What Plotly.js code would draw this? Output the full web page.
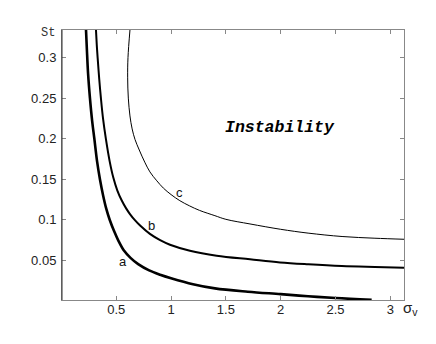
<!DOCTYPE html>
<html>
<head>
<meta charset="utf-8">
<script src="https://cdn.plot.ly/plotly-3.0.1.min.js"></script>
<style>html,body{margin:0;padding:0;background:#fff;}#chart{width:436px;height:344px;}</style>
</head>
<body>
<div id="chart"></div>
<script>
// Curve a (thickest)
var sigmaA = [0.224, 0.232, 0.243, 0.26, 0.28, 0.30, 0.325, 0.351, 0.38, 0.41, 0.44, 0.48, 0.52, 0.57, 0.63, 0.70, 0.80, 0.90, 1.0, 1.2, 1.4, 1.7, 2.0, 2.25, 2.5, 2.83];
var stA    = [0.334, 0.31, 0.28, 0.25, 0.222, 0.200, 0.172, 0.150, 0.130, 0.113, 0.100, 0.086, 0.074, 0.062, 0.053, 0.0452, 0.0375, 0.0322, 0.0279, 0.0205, 0.0153, 0.0112, 0.0082, 0.0056, 0.0034, 0.0012];
// Curve b
var sigmaB = [0.315, 0.322, 0.33, 0.345, 0.36, 0.38, 0.405, 0.44, 0.473, 0.51, 0.549, 0.59, 0.625, 0.67, 0.72, 0.807, 0.90, 0.99, 1.172, 1.416, 1.72, 1.994, 2.252, 2.557, 2.86, 3.125];
var stB    = [0.334, 0.316, 0.30, 0.273, 0.25, 0.224, 0.200, 0.172, 0.152, 0.136, 0.124, 0.114, 0.107, 0.0995, 0.0925, 0.0825, 0.0748, 0.0692, 0.0618, 0.0557, 0.0512, 0.0473, 0.0450, 0.0429, 0.0417, 0.0408];
// Curve c (thin)
var sigmaC = [0.625, 0.607, 0.604, 0.61, 0.625, 0.645, 0.671, 0.71, 0.76, 0.807, 0.87, 0.93, 1.0, 1.08, 1.17, 1.26, 1.40, 1.50, 1.72, 2.0, 2.25, 2.56, 2.86, 3.125];
var stC    = [0.334, 0.30, 0.275, 0.25, 0.228, 0.212, 0.199, 0.186, 0.171, 0.159, 0.148, 0.139, 0.131, 0.1235, 0.117, 0.1115, 0.105, 0.1005, 0.0948, 0.0882, 0.0835, 0.0793, 0.0772, 0.0759];

var xTicks = [0.5, 1, 1.5, 2, 2.5, 3];
var xTickText = ['0.5', '1', '1.5', '2', '2.5', '3'];
var yTicks = [0.05, 0.1, 0.15, 0.2, 0.25, 0.3];
var yTickText = ['0.05', '0.1', '0.15', '0.2', '0.25', '0.3'];

var curveLabels = ['a', 'b', 'c'];

var traces = [
  {x: sigmaA, y: stA, mode: 'lines', line: {color: '#000', width: 2.6, shape: 'spline', smoothing: 1}, hoverinfo: 'skip'},
  {x: sigmaB, y: stB, mode: 'lines', line: {color: '#000', width: 2.0, shape: 'spline', smoothing: 1}, hoverinfo: 'skip'},
  {x: sigmaC, y: stC, mode: 'lines', line: {color: '#000', width: 1.0, shape: 'spline', smoothing: 1}, hoverinfo: 'skip'}
];

var tickFont = {family: '"Liberation Sans", Arial, Helvetica, sans-serif', size: 13, color: '#222'};

var layout = {
  width: 436, height: 344,
  margin: {l: 62, r: 32, t: 30, b: 44},
  paper_bgcolor: '#fff', plot_bgcolor: '#fff',
  showlegend: false,
  xaxis: {
    range: [0.005, 3.125], tickvals: xTicks, ticktext: xTickText,
    ticks: 'inside', ticklen: 4, tickcolor: '#888', tickwidth: 1,
    showline: true, linecolor: '#888', linewidth: 1, mirror: 'ticks',
    showgrid: false, zeroline: false, tickfont: tickFont, ticklabelstandoff: -3
  },
  yaxis: {
    range: [0.001, 0.334], tickvals: yTicks, ticktext: yTickText,
    ticks: 'inside', ticklen: 4, tickcolor: '#888', tickwidth: 1,
    showline: true, linecolor: '#888', linewidth: 1, mirror: 'ticks',
    showgrid: false, zeroline: false, tickfont: tickFont, ticklabelstandoff: 2
  },
  shapes: [
    {type: 'line', xref: 'paper', yref: 'paper', x0: 0, x1: 0, y0: 0, y1: 1, line: {color: '#333', width: 1}}
  ],
  annotations: [
    {x: 0.56, y: 0.0479, xref: 'x', yref: 'y', text: curveLabels[0], showarrow: false, font: {family: '"Liberation Sans", Arial, sans-serif', size: 13, color: '#111'}},
    {x: 0.826, y: 0.0932, xref: 'x', yref: 'y', text: curveLabels[1], showarrow: false, font: {family: '"Liberation Sans", Arial, sans-serif', size: 13, color: '#111'}},
    {x: 1.081, y: 0.133, xref: 'x', yref: 'y', text: curveLabels[2], showarrow: false, font: {family: '"Liberation Sans", Arial, sans-serif', size: 13, color: '#111'}},
    {x: 1.991, y: 0.2132, xref: 'x', yref: 'y', text: '<b><i>Instability</i></b>', showarrow: false, font: {family: '"Liberation Mono", "Courier New", monospace', size: 16.5, color: '#000'}},
    {x: -0.04, y: 1.0, xref: 'paper', yref: 'paper', xanchor: 'center', yanchor: 'middle', yshift: -3, text: 'St', showarrow: false, font: {family: '"Liberation Mono", "Courier New", monospace', size: 12, color: '#333'}},
    {x: 1.0, y: 0, xref: 'paper', yref: 'paper', xanchor: 'left', yanchor: 'top', xshift: -3, yshift: 3, text: 'σ<sub>v</sub>', showarrow: false, font: {family: '"Liberation Sans", Arial, sans-serif', size: 15, color: '#222'}}
  ]
};

Plotly.newPlot('chart', traces, layout, {staticPlot: true, displayModeBar: false});
</script>
</body>
</html>
